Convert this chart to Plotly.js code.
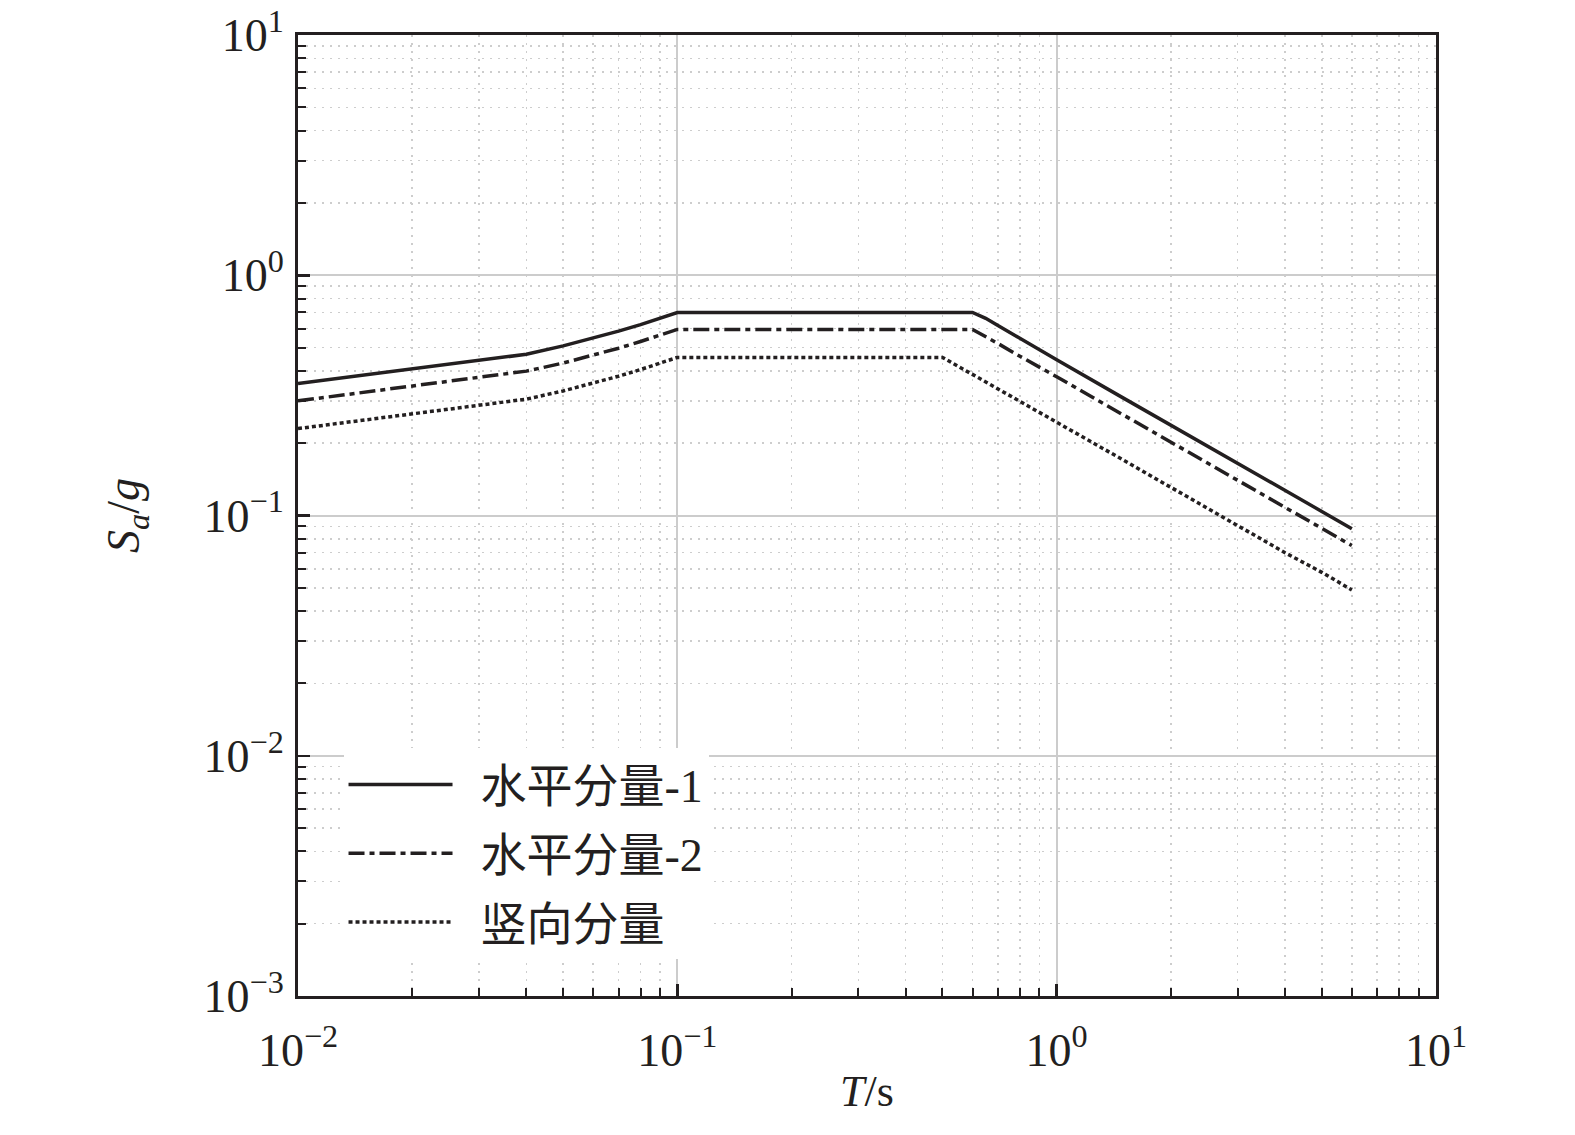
<!DOCTYPE html>
<html>
<head>
<meta charset="utf-8">
<script src="https://cdn.plot.ly/plotly-3.0.1.min.js"></script>
<style>
  html, body { margin: 0; padding: 0; background: #fff; }
  #chart { width: 1575px; height: 1135px; }
</style>
</head>
<body>
<div id="chart"></div>
<script>
// periods (s)
var periodH = [0.01, 0.04, 0.05, 0.06, 0.07, 0.08, 0.09, 0.1, 0.6, 0.65, 0.7, 0.8, 1, 1.5, 2, 3, 4, 5, 6];
var periodV = [0.01, 0.04, 0.05, 0.06, 0.07, 0.08, 0.09, 0.1, 0.5, 0.55, 0.6, 0.8, 1, 1.5, 2, 3, 4, 5, 6];

// Sa/g
var horiz1 = [0.354, 0.469, 0.508, 0.546, 0.585, 0.623, 0.662, 0.700, 0.700, 0.662, 0.618, 0.545, 0.445, 0.308, 0.238, 0.165, 0.127, 0.104, 0.088];
var horiz2 = [0.300, 0.399, 0.431, 0.464, 0.497, 0.530, 0.562, 0.595, 0.595, 0.557, 0.520, 0.460, 0.378, 0.262, 0.202, 0.140, 0.108, 0.088, 0.075];
var vert   = [0.230, 0.305, 0.330, 0.355, 0.380, 0.405, 0.430, 0.455, 0.455, 0.418, 0.386, 0.298, 0.246, 0.170, 0.131, 0.091, 0.070, 0.058, 0.049];

var seriesNames = ['水平分量-1', '水平分量-2', '竖向分量'];

var xTickVals = [0.01, 0.1, 1, 10];
var xTickText = ['10<sup>−2</sup>', '10<sup>−1</sup>', '10<sup>0</sup>', '10<sup>1</sup>'];
var yTickVals = [0.001, 0.01, 0.1, 1, 10];
var yTickText = ['10<sup>−3</sup>', '10<sup>−2</sup>', '10<sup>−1</sup>', '10<sup>0</sup>', '10<sup>1</sup>'];

function minorVals(lo, hi) {
  var out = [];
  for (var e = lo; e < hi; e++) {
    for (var m = 2; m <= 9; m++) out.push(m * Math.pow(10, e));
  }
  return out;
}

var ink = '#231f20';
var serif = '"Liberation Serif", "Times New Roman", serif';
var cjk = '"Liberation Serif", "Noto Sans CJK SC", serif';

var traces = [
  {x: periodH, y: horiz1, name: seriesNames[0], legendgroup: 'a',
   line: {color: ink, width: 3.5, dash: 'solid'}},
  {x: periodH, y: horiz2, name: seriesNames[1], legendgroup: 'b',
   line: {color: ink, width: 3.5, dash: '16px,5px,5px,5px'}},
  {x: periodV, y: vert, name: seriesNames[2], legendgroup: 'c',
   line: {color: ink, width: 3.5, dash: '4px,3px'}}
].map(function (t) {
  t.type = 'scatter';
  t.mode = 'lines';
  t.name = '\u2002' + t.name;   // gap between legend line and label
  return t;
});

var axisCommon = {
  type: 'log',
  tickmode: 'array',
  ticks: 'inside',
  ticklen: 12,
  tickwidth: 2.5,
  tickcolor: ink,
  showline: true,
  linecolor: ink,
  linewidth: 3,
  mirror: true,
  showgrid: true,
  gridcolor: '#cccccc',
  gridwidth: 2,
  zeroline: false,
  tickfont: {family: serif, size: 46, color: ink},
  minor: {
    tickmode: 'array',
    ticks: 'inside',
    ticklen: 8,
    tickwidth: 2,
    tickcolor: ink,
    showgrid: true,
    gridcolor: '#cdcdcd',
    gridwidth: 1.5,
    griddash: '2px,6px'
  }
};

var xaxis = Object.assign({}, axisCommon, {
  range: [-2, 1],
  tickvals: xTickVals,
  ticktext: xTickText,
  ticklabelstandoff: 12,
  title: {text: '<i>T</i>/s', font: {family: serif, size: 44, color: ink}, standoff: 0}
});
xaxis.minor = Object.assign({}, axisCommon.minor, {tickvals: minorVals(-2, 1)});

var yaxis = Object.assign({}, axisCommon, {
  range: [-3, 1],
  tickvals: yTickVals,
  ticktext: yTickText,
  ticklabelstandoff: 2,
  title: {text: '<i>S<sub>a</sub></i>/<i>g</i>', font: {family: serif, size: 46, color: ink}, standoff: 50}
});
yaxis.minor = Object.assign({}, axisCommon.minor, {tickvals: minorVals(-3, 1)});

var layout = {
  width: 1575,
  height: 1135,
  margin: {l: 298, r: 139, t: 35, b: 139},
  paper_bgcolor: '#ffffff',
  plot_bgcolor: '#ffffff',
  showlegend: true,
  legend: {
    x: 0.04, y: 0.258, xanchor: 'left', yanchor: 'top',
    bgcolor: '#ffffff',
    borderwidth: 0,
    font: {family: cjk, size: 46, color: ink},
    itemwidth: 104,
    tracegroupgap: 6
  },
  xaxis: xaxis,
  yaxis: yaxis
};

Plotly.newPlot('chart', traces, layout, {displayModeBar: false, staticPlot: true});
</script>
</body>
</html>
